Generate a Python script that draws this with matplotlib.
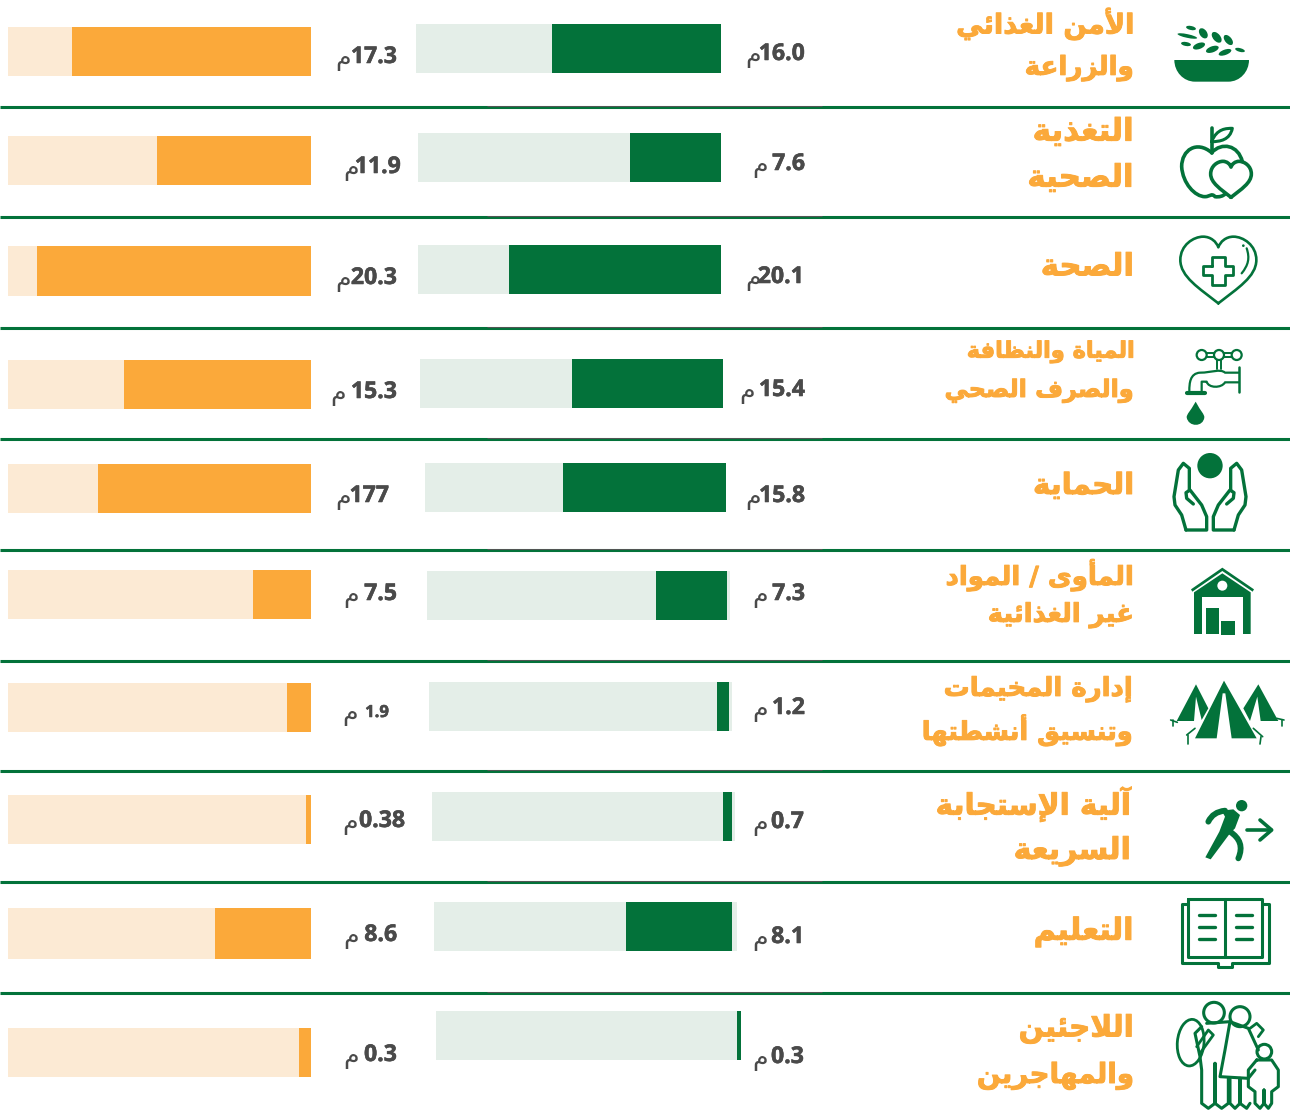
import matplotlib
matplotlib.use("Agg")
import matplotlib.pyplot as plt
import matplotlib.patheffects as pe
from matplotlib.patches import Circle, Ellipse, PathPatch, Polygon
from matplotlib.path import Path

# ---------- data ----------
sector_lines = [
    ["الأمن الغذائي", "والزراعة"],
    ["التغذية", "الصحية"],
    ["الصحة"],
    ["المياة والنظافة", "والصرف الصحي"],
    ["الحماية"],
    ["المأوى / المواد", "غير الغذائية"],
    ["إدارة المخيمات", "وتنسيق أنشطتها"],
    ["آلية الإستجابة", "السريعة"],
    ["التعليم"],
    ["اللاجئين", "والمهاجرين"],
]
green_labels = ["16.0", "7.6", "20.1", "15.4", "15.8", "7.3", "1.2", "0.7", "8.1", "0.3"]
orange_labels = ["17.3", "11.9", "20.3", "15.3", "177", "7.5", "1.9", "0.38", "8.6", "0.3"]
green_pct = [55.4, 30.0, 70.0, 50.0, 54.0, 23.4, 4.0, 3.0, 35.0, 1.3]
orange_pct = [78.9, 50.8, 90.4, 61.7, 70.3, 19.1, 7.9, 1.7, 31.7, 4.0]

# ---------- style / layout ----------
W, H = 1290, 1111
GREEN, ORANGE = "#03723A", "#FBA93A"
LGREEN, LORANGE = "#E4EEE8", "#FCEAD4"
TEXT = "#4A4A4A"
sep_y = [107, 217, 328, 439, 550, 661, 771, 882, 993]
green_box = [(416, 721, 24, 73), (418, 721, 133, 182), (418, 721, 245, 294), (420, 723, 359, 408),
             (425, 726, 463, 512), (427, 730, 571, 620), (429, 732, 682, 731), (432, 735, 792, 841),
             (434, 737, 902, 951), (436, 741, 1011, 1060)]
green_gap = [0, 0, 0, 0, 0, 1, 1, 1, 1.65, 0]
orange_box = [(8, 311, 27, 76), (8, 311, 136, 185), (8, 311, 246, 296), (8, 311, 360, 409),
              (8, 311, 464, 513), (8, 311, 570, 619), (8, 311, 683, 732), (8, 311, 795, 844),
              (8, 311, 908, 959), (8, 311, 1028, 1077)]
green_num = [(805, 54), (805, 164), (804, 277), (805, 390), (805, 496), (805, 594), (805, 708), (804, 822), (804, 937), (804, 1057)]
orange_num = [(397, 57), (401, 167), (397, 278), (397, 392), (389, 496), (397, 594), (389, 712), (405, 821), (397, 935), (397, 1055)]
green_mim = [761, 768, 761, 755, 761, 768, 768, 768, 768, 768]
orange_mim = [351, 359, 351, 346, 351, 359, 358, 358, 359, 359]
line_geom = [
    [(956, 1134, 24), (1025, 1134, 68)],
    [(1033, 1134, 132), (1028, 1134, 178)],
    [(1041, 1134, 267)],
    [(966, 1134, 352), (945, 1134, 391)],
    [(1033, 1134, 486)],
    [(946, 1134, 575), (988, 1134, 615)],
    [(944, 1133, 689), (922, 1133, 730)],
    [(936, 1131, 804), (1014, 1131, 851)],
    [(1034, 1134, 932)],
    [(1019, 1134, 1029), (977, 1134, 1076)],
]

# ---------- Arabic shaping (presentation forms, visual order) ----------
FORMS = {"ء": (0xFE80, 1), "آ": (0xFE81, 2), "أ": (0xFE83, 2), "ؤ": (0xFE85, 2), "إ": (0xFE87, 2),
         "ئ": (0xFE89, 4), "ا": (0xFE8D, 2), "ب": (0xFE8F, 4), "ة": (0xFE93, 2), "ت": (0xFE95, 4),
         "ث": (0xFE99, 4), "ج": (0xFE9D, 4), "ح": (0xFEA1, 4), "خ": (0xFEA5, 4), "د": (0xFEA9, 2),
         "ذ": (0xFEAB, 2), "ر": (0xFEAD, 2), "ز": (0xFEAF, 2), "س": (0xFEB1, 4), "ش": (0xFEB5, 4),
         "ص": (0xFEB9, 4), "ض": (0xFEBD, 4), "ط": (0xFEC1, 4), "ظ": (0xFEC5, 4), "ع": (0xFEC9, 4),
         "غ": (0xFECD, 4), "ف": (0xFED1, 4), "ق": (0xFED5, 4), "ك": (0xFED9, 4), "ل": (0xFEDD, 4),
         "م": (0xFEE1, 4), "ن": (0xFEE5, 4), "ه": (0xFEE9, 4), "و": (0xFEED, 2), "ى": (0xFEEF, 2),
         "ي": (0xFEF1, 4)}
LAM_ALEF = {"آ": 0xFEF5, "أ": 0xFEF7, "إ": 0xFEF9, "ا": 0xFEFB}


def shape(s):
    out = []
    i = 0
    n = len(s)
    prev_dual = False
    while i < n:
        c = s[i]
        if c not in FORMS:
            out.append(c)
            prev_dual = False
            i += 1
            continue
        if c == "ل" and i + 1 < n and s[i + 1] in LAM_ALEF:
            out.append(chr(LAM_ALEF[s[i + 1]] + (1 if prev_dual else 0)))
            prev_dual = False
            i += 2
            continue
        base, cnt = FORMS[c]
        nxt = i + 1 < n and s[i + 1] in FORMS
        if cnt == 4:
            idx = (3 if nxt else 1) if prev_dual else (2 if nxt else 0)
        elif cnt == 2:
            idx = 1 if prev_dual else 0
        else:
            idx = 0
        out.append(chr(base + idx))
        prev_dual = cnt == 4
        i += 1
    return "".join(reversed(out))


# ---------- figure ----------
fig = plt.figure(figsize=(W / 100, H / 100), dpi=100, facecolor="white")
ov = fig.add_axes([0, 0, 1, 1], zorder=5)
ov.set_xlim(0, W)
ov.set_ylim(H, 0)
ov.axis("off")
ov.patch.set_alpha(0)


def bar_axes(box):
    l, r, t, b = box
    ax = fig.add_axes([l / W, 1 - b / H, (r - l) / W, (b - t) / H])
    ax.set_xlim(100, 0)
    ax.set_ylim(-0.5, 0.5)
    ax.axis("off")
    return ax


for i in range(10):
    a = bar_axes(green_box[i])
    a.barh(0, 100, height=1, color=LGREEN)
    a.barh(0, green_pct[i], left=green_gap[i], height=1, color=GREEN)
    a = bar_axes(orange_box[i])
    a.barh(0, 100, height=1, color=LORANGE)
    a.barh(0, orange_pct[i], height=1, color=ORANGE)

for y in sep_y:
    ov.plot([0, W], [y, y], color=GREEN, lw=2.2, solid_capstyle="butt")
    ov.plot([487, 822], [y - 0.8, y - 0.8], color="#555555", lw=0.7, solid_capstyle="butt")

# value labels
for labels, nums, mims in ((green_labels, green_num, green_mim), (orange_labels, orange_num, orange_mim)):
    for lab, (x, y), m in zip(labels, nums, mims):
        fs = 12 if lab == "1.9" else 16.6
        ov.text(x, y, lab, family="Open Sans", weight="bold", fontsize=fs, color=TEXT, ha="right", va="center",
                path_effects=[pe.withStroke(linewidth=0.4, foreground=TEXT)])
        ov.text(m, y + 2, shape("م"), family="DejaVu Sans", fontsize=18, color=TEXT, ha="right", va="center")

# sector names, fitted to the width they take in the chart
rend = fig.canvas.get_renderer()
for lines, geom in zip(sector_lines, line_geom):
    for s, (x0, x1, y) in zip(lines, geom):
        t = ov.text(x1, y, shape(s), family="DejaVu Sans", weight="bold", fontsize=20, color=ORANGE, ha="right", va="center")
        w = t.get_window_extent(rend).width
        t.set_fontsize(20 * (x1 - x0) / w)
        t.set_path_effects([pe.withStroke(linewidth=0.7, foreground=ORANGE)])


# ---------- icons (pixel coordinates from zoomed crops) ----------
def zx(v):
    return 900 + v / 3


def line(pts, lw=2.0, y0=0, close=False, color=GREEN):
    xs = [zx(p[0]) for p in pts]
    ys = [y0 + p[1] / 3 for p in pts]
    if close:
        xs.append(xs[0])
        ys.append(ys[0])
    ov.plot(xs, ys, color=color, lw=lw, solid_capstyle="round", solid_joinstyle="round")


def fill(pts, y0=0, color=GREEN):
    ov.add_patch(Polygon([(zx(p[0]), y0 + p[1] / 3) for p in pts], closed=True, fc=color, ec="none"))


def circ(x, y, r, y0=0, fc=GREEN, ec="none", lw=0):
    ov.add_patch(Circle((zx(x), y0 + y / 3), r / 3, fc=fc, ec=ec, lw=lw))


def curve(points, codes, y0=0, lw=2.0, fc="none", ec=GREEN):
    ov.add_patch(PathPatch(Path([(zx(p[0]), y0 + p[1] / 3) for p in points], codes), fc=fc, ec=ec if fc == "none" else "none", lw=lw, capstyle="round", joinstyle="round"))


C4, M, L = Path.CURVE4, Path.MOVETO, Path.LINETO


def heart(cx, cy, w, h, y0=0, lw=2.0, fc="none"):
    raw = [(0, 1), (-.5, .55), (-1, .2), (-1, -.3), (-1, -.75), (-.65, -1), (-.4, -1), (-.2, -1), (-.05, -.85), (0, -.68),
           (.05, -.85), (.2, -1), (.4, -1), (.65, -1), (1, -.75), (1, -.3), (1, .2), (.5, .55), (0, 1)]
    pts = [(cx + a * w / 2, cy + b * h / 2) for a, b in raw]
    curve(pts, [M] + [C4] * 18, y0=y0, lw=lw, fc=fc)


# 1 bowl with grains
curve([(823, 180), (1047, 180), (1047, 215), (1020, 245), (985, 245), (885, 245), (850, 245), (823, 215), (823, 180)],
      [M, L, C4, C4, C4, L, C4, C4, C4], fc=GREEN, lw=0)
for (x, y, a, b, ang) in [(873, 84, 30, 12, 12), (910, 100, 34, 22, 55), (950, 112, 38, 22, 50), (985, 120, 36, 20, 50),
                          (862, 108, 60, 11, 12), (858, 132, 30, 12, 10), (897, 138, 38, 18, -20), (937, 148, 40, 18, -20),
                          (975, 157, 40, 16, -20), (1020, 150, 30, 11, 15)]:
    ov.add_patch(Ellipse((zx(x), y / 3), a / 3, b / 3, angle=ang, fc=GREEN, ec="none"))

# 2 apple and heart
curve([(935, 458), (890, 420), (845, 450), (845, 500), (848, 550), (885, 590), (915, 590), (930, 590), (935, 578), (945, 590),
       (958, 592), (970, 588), (975, 582)], [M] + [C4] * 12, lw=2.6)
curve([(935, 458), (965, 425), (1015, 435), (1027, 485)], [M, C4, C4, C4], lw=2.6)
line([(935, 383), (935, 458)], lw=2.6)
curve([(935, 425), (950, 385), (980, 385), (997, 385), (990, 420), (960, 425), (935, 425)], [M, C4, C4, C4, C4, C4, C4], lw=2.2)
heart(993, 538, 122, 108, lw=2.6)

# 3 heart with a cross
heart(955, 810, 228, 200, lw=1.9)
line([(935, 798), (935, 770), (975, 770), (975, 798), (1000, 798), (1000, 825), (975, 825), (975, 855), (935, 855), (935, 825),
      (910, 825), (910, 798), (935, 798)], lw=2.0)
curve([(1040, 745), (1050, 775), (1045, 795), (1025, 820)], [M, C4, C4, C4], lw=1.6)
circ(1030, 737, 4)

# 4 tap
y4 = 340
circ(905, 45, 15, y4, fc="white", ec=GREEN, lw=1.6)
circ(1010, 45, 15, y4, fc="white", ec=GREEN, lw=1.6)
circ(957, 45, 15, y4, fc="white", ec=GREEN, lw=1.6)
line([(920, 38), (942, 38)], 1.4, y4)
line([(920, 52), (942, 52)], 1.4, y4)
line([(972, 38), (995, 38)], 1.4, y4)
line([(972, 52), (995, 52)], 1.4, y4)
line([(950, 60), (950, 88)], 1.4, y4)
line([(964, 60), (964, 88)], 1.4, y4)
line([(1016, 80), (1016, 155)], 1.8, y4)
curve([(1016, 98), (985, 98), (985, 98), (975, 98), (960, 85), (935, 98), (900, 98), (870, 100), (868, 130), (868, 152)],
      [M, C4, C4, C4, C4, C4, C4, C4, C4, C4], y4, lw=1.6)
curve([(1016, 127), (985, 127), (985, 127), (975, 127), (965, 145), (925, 145), (920, 125), (905, 125), (905, 152)],
      [M, C4, C4, C4, C4, C4, C4, L, L], y4, lw=1.6)
line([(860, 158), (915, 158)], 3.0, y4)
curve([(887, 185), (870, 215), (860, 222), (860, 232), (865, 262), (910, 262), (913, 232), (913, 222), (903, 215), (887, 185)],
      [M, C4, C4, C4, C4, C4, C4, C4, C4, C4], y4, fc=GREEN, lw=0)

# 5 hands and ball
y5 = 340
circ(930, 377, 38, y5)
left = [(858, 570), (845, 525), (825, 495), (822, 470), (835, 390), (850, 370), (868, 385), (868, 450)]
left2 = [(858, 570), (920, 570), (920, 530), (905, 495), (870, 450), (858, 458), (860, 475), (880, 492)]
for pts in (left, left2):
    line(pts, 2.4, y5)
    line([(1860 - x, y) for x, y in pts], 2.4, y5)

# 6 warehouse
y6 = 340
fill([(873, 748), (967, 683), (1062, 748), (1058, 755), (967, 693), (877, 755)], y6)
fill([(882, 757), (967, 700), (1052, 757), (1052, 882), (882, 882)], y6)
fill([(905, 770), (1030, 770), (1030, 882), (905, 882)], y6, color="white")
fill([(917, 803), (957, 803), (957, 882), (917, 882)], y6)
fill([(963, 843), (1005, 843), (1005, 885), (963, 885)], y6)
circ(967, 737, 15, y6, fc="white")

# 7 tents
y7 = 340
fill([(972, 1022), (1070, 1195), (995, 1195), (976, 1060), (972, 1060), (968, 1060), (950, 1195), (885, 1195)], y7)
fill([(888, 1033), (925, 1105), (905, 1140), (888, 1070), (882, 1143), (830, 1143)], y7)
fill([(1075, 1033), (1135, 1143), (1082, 1143), (1072, 1070), (1050, 1143), (1030, 1105)], y7)
for pts in ([(812, 1140), (832, 1147)], [(818, 1140), (818, 1157)], [(1130, 1135), (1152, 1140)], [(1145, 1140), (1145, 1157)],
            [(860, 1185), (885, 1165)], [(865, 1185), (865, 1212)], [(1060, 1165), (1088, 1190)], [(1083, 1190), (1080, 1212)]):
    line(pts, 1.2, y7)

# 8 runner
y8 = 770
circ(1025, 107, 17, y8)
fill([(965, 122), (1000, 118), (1020, 135), (1005, 175), (990, 190), (932, 268), (916, 262), (958, 185), (975, 140)], y8)
curve([(925, 155), (935, 135), (950, 125), (975, 122)], [M, C4, C4, C4], y8, lw=4.2)
curve([(990, 185), (1020, 205), (1030, 230), (1015, 265)], [M, C4, C4, C4], y8, lw=4.2)
line([(1040, 180), (1113, 180)], 2.6, y8)
line([(1080, 150), (1115, 180), (1080, 210)], 2.6, y8)

# 9 book
y9 = 770
line([(865, 402), (845, 402), (845, 580), (955, 580), (955, 590), (995, 590), (995, 580), (1108, 580), (1108, 402), (1085, 402)], 2.2, y9)
line([(865, 388), (975, 388), (975, 560), (865, 560)], 2.2, y9, close=True)
line([(975, 388), (1085, 388), (1085, 560), (975, 560)], 2.2, y9)
for yy in (435, 470, 507):
    line([(897, yy), (945, yy)], 2.4, y9)
    line([(1007, yy), (1057, yy)], 2.4, y9)

# 10 family
y10 = 770
circ(942, 728, 31, y10, fc="white", ec=GREEN, lw=2.2)
circ(1020, 740, 30, y10, fc="white", ec=GREEN, lw=2.2)
circ(1093, 845, 22, y10, fc="white", ec=GREEN, lw=2.2)
ov.add_patch(Ellipse((zx(872), y10 + 818 / 3), 80 / 3, 140 / 3, angle=5, fc="none", ec=GREEN, lw=2.0))
line([(905, 770), (885, 790), (900, 860), (905, 900), (905, 1000), (925, 1015), (945, 1000), (945, 880), (945, 1000), (965, 1015), (985, 1000), (985, 925)], 2.2, y10)
line([(890, 830), (925, 780), (940, 795), (900, 850)], 2.0, y10)
line([(920, 760), (990, 755), (1045, 775), (1075, 840)], 2.2, y10)
line([(990, 755), (975, 840), (960, 920), (1045, 925), (1065, 900)], 2.2, y10)
line([(990, 925), (990, 1000), (1005, 1015), (1020, 1000), (1020, 925), (1020, 1000), (1040, 1015), (1050, 1000)], 2.2, y10)
line([(1050, 775), (1070, 760), (1090, 780), (1075, 800)], 2.0, y10)
line([(1070, 870), (1045, 900), (1045, 950), (1065, 965), (1065, 1000), (1080, 1015), (1092, 1000), (1092, 960), (1092, 1000), (1105, 1015), (1115, 1000),
      (1115, 965), (1135, 950), (1135, 900), (1115, 870), (1070, 870)], 2.2, y10)

fig.savefig("out.png", dpi=100, facecolor="white")
